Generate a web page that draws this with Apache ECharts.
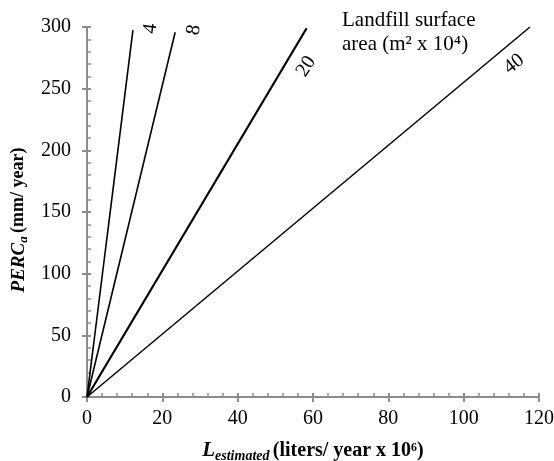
<!DOCTYPE html>
<html>
<head>
<meta charset="utf-8">
<script src="https://cdn.jsdelivr.net/npm/echarts@6/dist/echarts.min.js"></script>
<style>
  html, body { margin: 0; padding: 0; background: #fff; }
  #chart { width: 554px; height: 461px; }
</style>
</head>
<body>
<div id="chart"></div>
<script>
// landfill surface areas (m² x 10^4) and their line end points [L, PERC]
const areas = ['4', '8', '20', '40']
const line4 = [[0, 0], [12.2, 297.5]]
const line8 = [[0, 0], [23.4, 295.7]]
const line20 = [[0, 0], [58.3, 299]]
const line40 = [[0, 0], [117.6, 300]]
const lineData = [line4, line8, line20, line40]
// where each area label sits [x, y] and its rotation
const labelPos = [[16.9, 298.6], [28.4, 297.6], [58.2, 268.0], [113.4, 270.0]]
const labelRot = [83, 80, 57, 38]
const lineWidths = [1.6, 1.6, 2.2, 1.5]

const xTicks = [0, 20, 40, 60, 80, 100, 120]
const yTicks = [0, 50, 100, 150, 200, 250, 300]

const font = 'Liberation Serif'
const axisGray = '#8c8c8c'

const chart = echarts.init(document.getElementById('chart'))

const series = lineData.map((d, i) => ({
    name: areas[i],
    type: 'line',
    data: d,
    symbol: 'none',
    lineStyle: { color: '#000', width: lineWidths[i] },
    markPoint: {
        symbol: 'circle',
        symbolSize: 0,
        silent: true,
        data: [{ coord: labelPos[i] }],
        label: {
            show: true,
            position: 'inside',
            formatter: areas[i],
            rotate: labelRot[i],
            fontFamily: font,
            fontSize: 20,
            color: '#000'
        }
    }
}))

const option = {
    animation: false,
    grid: { left: 87, right: 15, top: 27, bottom: 64, outerBoundsMode: 'none', containLabel: false },
    xAxis: [
        {
            type: 'value',
            min: xTicks[0],
            max: xTicks[xTicks.length - 1],
            interval: 20,
            position: 'bottom',
            axisLine: { lineStyle: { color: axisGray, width: 2 } },
            axisTick: { inside: true, length: 4, lineStyle: { color: axisGray, width: 2 } },
            minorTick: { show: true, splitNumber: 5, length: 4, lineStyle: { color: axisGray, width: 1.5 } },
            splitLine: { show: false },
            axisLabel: { margin: 12, fontFamily: font, fontSize: 20, color: '#000' },
            name: '{it|L}{sub|estimated} {b|(liters/ year x 10⁶)}',
            nameLocation: 'middle',
            nameGap: 41,
            nameTextStyle: {
                rich: {
                    it: { fontFamily: font, fontSize: 21, fontWeight: 'bold', fontStyle: 'italic', color: '#000' },
                    sub: { fontFamily: font, fontSize: 14, fontWeight: 'bold', fontStyle: 'italic', color: '#000', padding: [11, 0, 0, 0] },
                    b: { fontFamily: font, fontSize: 20, fontWeight: 'bold', color: '#000' }
                }
            }
        },
        {
            type: 'value',
            min: xTicks[0],
            max: xTicks[xTicks.length - 1],
            interval: 20,
            position: 'bottom',
            axisLine: { show: false },
            axisTick: { inside: false, length: 5, lineStyle: { color: axisGray, width: 2 } },
            axisLabel: { show: false },
            splitLine: { show: false }
        }
    ],
    yAxis: [
        {
            type: 'value',
            min: yTicks[0],
            max: yTicks[yTicks.length - 1],
            interval: 50,
            axisLine: { show: true, lineStyle: { color: axisGray, width: 2 } },
            axisTick: { show: true, inside: true, length: 4, lineStyle: { color: axisGray, width: 2 } },
            minorTick: { show: true, splitNumber: 5, length: 4, lineStyle: { color: axisGray, width: 1.5 } },
            splitLine: { show: false },
            axisLabel: { margin: 16, fontFamily: font, fontSize: 20, color: '#000' },
            name: '{it|PERC}{sub|a} {b|(mm/ year)}',
            nameLocation: 'middle',
            nameGap: 43,
            nameTextStyle: {
                padding: [0, 16, 0, 0],
                rich: {
                    it: { fontFamily: font, fontSize: 19, fontWeight: 'bold', fontStyle: 'italic', color: '#000' },
                    sub: { fontFamily: font, fontSize: 13, fontWeight: 'bold', fontStyle: 'italic', color: '#000', padding: [10, 0, 0, 0] },
                    b: { fontFamily: font, fontSize: 18, fontWeight: 'bold', color: '#000' }
                }
            }
        },
        {
            type: 'value',
            min: yTicks[0],
            max: yTicks[yTicks.length - 1],
            interval: 50,
            position: 'left',
            axisLine: { show: false },
            axisTick: { show: true, inside: false, length: 5, lineStyle: { color: axisGray, width: 2 } },
            axisLabel: { show: false },
            splitLine: { show: false }
        }
    ],
    graphic: [
        {
            type: 'text',
            left: 342,
            top: 8,
            style: {
                text: 'Landfill surface\narea (m² x 10⁴)',
                font: '21px "Liberation Serif"',
                lineHeight: 24,
                fill: '#000'
            }
        }
    ],
    series: series
}

option && chart.setOption(option)
</script>
</body>
</html>
